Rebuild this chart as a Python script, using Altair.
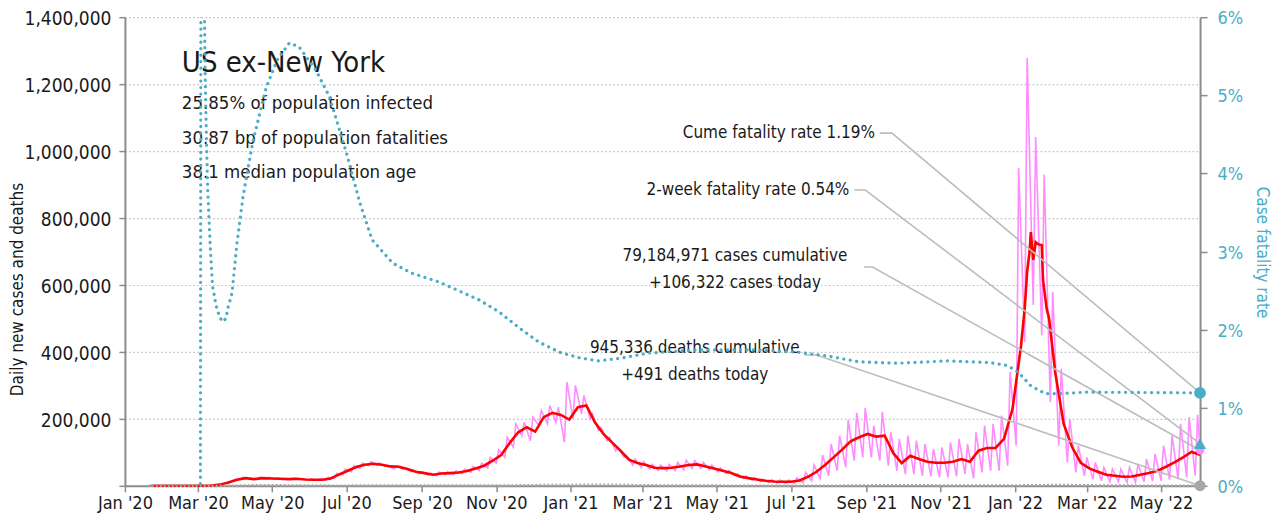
import altair as alt
import pandas as pd

# ---------------- data ----------------
# 7-day average of daily new cases, in thousands, weekly (Thursdays from 2020-01-23)
CASES_7DAY_START = "2020-01-23"
CASES_7DAY_K = [
    0, 0, 0, 0, 0, 0.1, 0.3, 1.2, 3.5, 10,
    18, 23, 20, 23, 22, 21, 20, 21, 19, 18,
    18, 22, 34, 45, 56, 63, 66, 63, 58, 57,
    50, 42, 38, 33, 37, 38, 40, 44, 52, 60,
    75, 92, 128, 160, 175, 162, 205, 218, 212, 198,
    235, 240, 190, 155, 130, 105, 78, 68, 62, 54,
    53, 54, 58, 62, 64, 58, 52, 45, 38, 28,
    23, 19, 15, 13, 12, 12, 16, 27, 42, 62,
    85, 108, 133, 145, 155, 147, 150, 98, 68, 90,
    80, 72, 69, 69, 72, 80, 72, 105, 113, 113,
    140, 230, 420, 700, 722, 530, 340, 185, 115, 69,
    52, 42, 33, 30, 27, 28, 33, 38, 45, 57,
    70, 85, 101, 93,
]
# extra readings of the 7-day average around the January 2022 peak
CASES_PEAK_DATES = ["2022-01-09", "2022-01-11", "2022-01-14", "2022-01-16",
                    "2022-01-18", "2022-01-23", "2022-01-24", "2022-01-29"]
CASES_PEAK_K = [530, 640, 758, 675, 728, 719, 615, 500]

# daily new cases, in thousands: weekly highs (Tuesdays from 2020-01-21)
DAILY_HI_START = "2020-01-21"
DAILY_HI_K = [
    0, 0, 0, 0, 0, 0.1, 0.3, 1, 3, 9,
    19, 25, 22, 26, 25, 24, 22, 23, 21, 20,
    20, 25, 37, 50, 60, 68, 72, 68, 62, 60,
    54, 46, 42, 38, 41, 43, 45, 50, 58, 68,
    85, 108, 145, 185, 190, 205, 225, 240, 235, 310,
    300, 270, 215, 175, 145, 115, 90, 80, 72, 64,
    62, 64, 70, 76, 75, 70, 62, 54, 46, 36,
    30, 25, 20, 18, 17, 17, 24, 40, 62, 92,
    125, 150, 197, 218, 233, 180, 221, 160, 140, 150,
    135, 125, 110, 115, 130, 140, 125, 160, 180, 185,
    210, 340, 950, 1278, 1042, 930, 580, 350, 200, 120,
    85, 70, 55, 50, 50, 55, 65, 80, 95, 120,
    150, 185, 205, 212,
]
# daily new cases, in thousands: weekly lows (Sundays from 2020-01-26)
DAILY_LO_START = "2020-01-26"
DAILY_LO_K = [
    0, 0, 0, 0, 0, 0, 0.3, 2, 6, 14,
    20, 22, 19, 21, 20, 19, 18, 19, 17, 17,
    17, 22, 33, 42, 52, 60, 62, 58, 50, 50,
    42, 36, 32, 30, 33, 34, 36, 40, 46, 54,
    68, 85, 115, 150, 135, 180, 185, 190, 130, 200,
    215, 200, 165, 135, 105, 85, 62, 55, 50, 46,
    45, 46, 48, 52, 52, 48, 42, 36, 30, 22,
    17, 13, 10, 8, 7, 7, 9, 15, 22, 30,
    45, 55, 75, 85, 85, 75, 60, 45, 35, 35,
    30, 28, 25, 25, 28, 35, 22, 40, 45, 45,
    60, 120, 430, 540, 450, 250, 120, 70, 40, 30,
    20, 15, 12, 12, 10, 10, 12, 14, 15, 18,
    20, 25, 30,
]

# 7-day average of daily deaths, in thousands (same Thursday grid as cases)
DEATHS_7DAY_K = [
    0, 0, 0, 0, 0, 0, 0, 0, 0.05, 0.2,
    0.6, 1.2, 1.5, 1.6, 1.6, 1.5, 1.3, 1.2, 1.0, 0.9,
    0.8, 0.6, 0.6, 0.6, 0.7, 0.8, 1.0, 1.1, 1.1, 1.1,
    1.0, 0.95, 0.85, 0.75, 0.75, 0.75, 0.7, 0.7, 0.7, 0.8,
    0.8, 0.95, 1.1, 1.4, 1.6, 2.0, 2.3, 2.5, 2.5, 2.4,
    2.7, 3.1, 3.0, 3.0, 2.9, 2.8, 2.3, 1.9, 1.8, 1.5,
    1.1, 0.9, 0.8, 0.8, 0.7, 0.7, 0.7, 0.6, 0.6, 0.5,
    0.5, 0.4, 0.35, 0.3, 0.25, 0.22, 0.2, 0.25, 0.3, 0.35,
    0.45, 0.6, 0.8, 1.0, 1.3, 1.5, 1.8, 1.9, 1.9, 1.7,
    1.6, 1.4, 1.3, 1.2, 1.1, 1.1, 1.0, 1.0, 1.2, 1.2,
    1.2, 1.1, 1.3, 1.6, 1.9, 2.1, 2.4, 2.4, 2.1, 1.8,
    1.5, 1.2, 1.0, 0.85, 0.7, 0.6, 0.5, 0.4, 0.35, 0.33,
    0.32, 0.3, 0.3, 0.3,
]

# cumulative case fatality rate (right axis)
CFR_DATES = [
    "2020-01-22", "2020-03-03", "2020-03-04", "2020-03-05", "2020-03-06", "2020-03-07",
    "2020-03-08", "2020-03-09", "2020-03-11", "2020-03-13", "2020-03-16", "2020-03-19",
    "2020-03-22", "2020-03-24", "2020-03-26", "2020-03-29", "2020-04-02", "2020-04-07",
    "2020-04-15", "2020-04-26", "2020-05-05", "2020-05-15", "2020-05-23", "2020-06-06",
    "2020-06-17", "2020-07-01", "2020-07-12", "2020-07-22", "2020-08-08", "2020-08-24",
    "2020-09-15", "2020-10-18", "2020-11-03", "2020-11-20", "2020-12-06", "2020-12-23",
    "2021-01-08", "2021-01-24", "2021-02-10", "2021-03-06", "2021-04-16", "2021-06-04",
    "2021-07-07", "2021-08-01", "2021-08-25", "2021-09-27", "2021-11-07", "2021-12-10",
    "2021-12-26", "2022-01-04", "2022-01-14", "2022-01-26", "2022-02-05", "2022-03-02",
    "2022-06-02",
]
CFR_VALUES = [
    0, 0, 0.15, 0.09, 0.065, 0.052,
    0.044, 0.038, 0.031, 0.0255, 0.023, 0.0215,
    0.021, 0.0215, 0.023, 0.0247, 0.031, 0.037,
    0.044, 0.051, 0.0545, 0.0567, 0.0562, 0.0532,
    0.0498, 0.0426, 0.0362, 0.0315, 0.0285, 0.0272,
    0.0261, 0.0238, 0.0223, 0.0202, 0.0184, 0.0171,
    0.0164, 0.0160, 0.0163, 0.0170, 0.0174, 0.0174,
    0.0171, 0.0166, 0.0159, 0.0157, 0.0160, 0.0158,
    0.0154, 0.0145, 0.0128, 0.0118, 0.0118, 0.0120,
    0.0119,
]

LAST_DATE = "2022-06-02"
CASES_TODAY = 106322
DEATHS_TODAY = 491
CASES_CUM = 79184971
DEATHS_CUM = 945336
CUME_CFR = 0.0119
TWO_WEEK_CFR = 0.0054

TITLE = "US ex-New York"
SUBTITLE = ["25.85% of population infected",
            "30.87 bp of population fatalities",
            "38.1 median population age"]

# annotation anchors (dates / left-axis values)
LABEL_RIGHT_DATES = ["2021-09-08", "2021-08-18"]
LABEL_RIGHT_V = [1053700, 883600]
LABEL_CENTER_DATES = ["2021-05-16", "2021-05-16", "2021-04-13", "2021-04-13"]
LABEL_CENTER_V = [686600, 606000, 412000, 331300]
LEADER_START = ["2021-09-12", "2021-08-22", "2021-08-30", "2021-07-12"]
LEADER_BEND = ["2021-09-22", "2021-08-31", "2021-09-06", "2021-07-22"]
LEADER_V = [1053700, 883600, 653700, 391000]

Y_MAX = 1400000
CFR_MAX = 0.06

# ---------------- styling ----------------
FONT = "Liberation Sans Narrow, DejaVu Sans Condensed, Roboto, sans-serif"
TEAL = "#4bacc6"
RED = "#ff0000"
PINK = "#ff8cff"
GREY = "#a6a6a6"
LEADER = "#bdbdbd"
AXIS = "#8c8c8c"
TXT = "#1a1a1a"

# ---------------- frames ----------------
thu = pd.date_range(CASES_7DAY_START, periods=len(CASES_7DAY_K), freq="7D")
red_df = pd.DataFrame({
    "date": list(thu) + list(pd.to_datetime(CASES_PEAK_DATES)),
    "v": [k * 1000 for k in CASES_7DAY_K] + [k * 1000 for k in CASES_PEAK_K],
}).sort_values("date")

hi_d = pd.date_range(DAILY_HI_START, periods=len(DAILY_HI_K), freq="7D")
lo_d = pd.date_range(DAILY_LO_START, periods=len(DAILY_LO_K), freq="7D")
pink_df = pd.DataFrame({
    "date": list(hi_d) + list(lo_d) + [pd.Timestamp(LAST_DATE)],
    "v": [k * 1000 for k in DAILY_HI_K] + [k * 1000 for k in DAILY_LO_K] + [CASES_TODAY],
}).sort_values("date")

deaths_df = pd.DataFrame({
    "date": list(thu),
    "v": [k * 1000 for k in DEATHS_7DAY_K],
})

cfr_df = pd.DataFrame({"date": pd.to_datetime(CFR_DATES), "cfr": CFR_VALUES})

conv = Y_MAX / CFR_MAX
end_vals = [CUME_CFR * conv, TWO_WEEK_CFR * conv, CASES_TODAY, DEATHS_TODAY]
rows = []
for i in range(4):
    rows.append({"id": i, "o": 0, "date": pd.Timestamp(LEADER_START[i]), "v": LEADER_V[i]})
    rows.append({"id": i, "o": 1, "date": pd.Timestamp(LEADER_BEND[i]), "v": LEADER_V[i]})
    rows.append({"id": i, "o": 2, "date": pd.Timestamp(LAST_DATE), "v": end_vals[i]})
leader_df = pd.DataFrame(rows)

right_lbl_df = pd.DataFrame({
    "date": pd.to_datetime(LABEL_RIGHT_DATES),
    "v": LABEL_RIGHT_V,
    "t": [f"Cume fatality rate {CUME_CFR:.2%}", f"2-week fatality rate {TWO_WEEK_CFR:.2%}"],
})
center_lbl_df = pd.DataFrame({
    "date": pd.to_datetime(LABEL_CENTER_DATES),
    "v": LABEL_CENTER_V,
    "t": [f"{CASES_CUM:,} cases cumulative", f"+{CASES_TODAY:,} cases today",
          f"{DEATHS_CUM:,} deaths cumulative", f"+{DEATHS_TODAY:,} deaths today"],
})
end_left_df = pd.DataFrame({
    "date": pd.to_datetime([LAST_DATE, LAST_DATE]),
    "v": [CASES_TODAY, DEATHS_TODAY],
    "kind": ["cases", "deaths"],
})
end_right_df = pd.DataFrame({
    "date": pd.to_datetime([LAST_DATE, LAST_DATE]),
    "cfr": [CUME_CFR, TWO_WEEK_CFR],
    "kind": ["cume", "twoweek"],
})
dummy = pd.DataFrame({"a": [0]})

# ---------------- encodings ----------------
tick_months = [(y, m) for y in (2020, 2021, 2022) for m in (1, 3, 5, 7, 9, 11)
               if not (y == 2022 and m > 5)]
x_axis = alt.Axis(
    values=[alt.DateTime(year=y, month=m, date=1) for y, m in tick_months],
    format="%b '%y", title=None, grid=False,
    labelFontSize=18, labelColor=TXT, labelPadding=3,
    labelOverlap=False, labelFlush=False, labelBound=False,
    domainColor=AXIS, domainWidth=2, tickColor=AXIS, tickWidth=1.5, tickSize=6,
)
X = alt.X("date:T",
          scale=alt.Scale(domain=[alt.DateTime(year=2020, month=1, date=1),
                                  alt.DateTime(year=2022, month=6, date=2)]),
          axis=x_axis)

y_axis = alt.Axis(
    orient="left", values=list(range(0, Y_MAX + 1, 200000)), format=",d",
    labelExpr="datum.value == 0 ? '' : datum.label",
    grid=True, gridDash=[1.5, 2.5], gridColor="#bdbdbd", gridWidth=1.2,
    domainColor=AXIS, domainWidth=2, tickColor=AXIS, tickWidth=1.5, tickSize=6,
    labelFontSize=19, labelColor=TXT, labelPadding=8, labelOffset=1.5,
    labelOverlap=False, labelFlush=False, labelBound=False,
    title="Daily new cases and deaths", titleFontSize=17, titleFontWeight="normal",
    titleColor=TXT, titleX=-107, titleY=272, titleAngle=270, titleAlign="center",
    titleBaseline="middle",
)
Y = alt.Y("v:Q", scale=alt.Scale(domain=[0, Y_MAX]), axis=y_axis)

yr_axis = alt.Axis(
    orient="right", values=[0, 0.01, 0.02, 0.03, 0.04, 0.05, 0.06], format=".0%",
    grid=False, domainColor=AXIS, domainWidth=2, tickColor=AXIS, tickWidth=1.5,
    tickSize=7, labelFontSize=18, labelColor=TEAL, labelPadding=10, labelOffset=1.5,
    labelOverlap=False, labelFlush=False, labelBound=False,
    title="Case fatality rate", titleFontSize=17, titleFontWeight="normal",
    titleColor=TEAL, titleX=61, titleY=235, titleAngle=90, titleAlign="center",
    titleBaseline="middle",
)
YR = alt.Y("cfr:Q", scale=alt.Scale(domain=[0, CFR_MAX]), axis=yr_axis)

# ---------------- layers ----------------
pink = alt.Chart(pink_df).mark_line(color=PINK, strokeWidth=1.6).encode(x=X, y=Y)
red = alt.Chart(red_df).mark_line(color=RED, strokeWidth=2.6).encode(x=X, y=Y)
deaths = alt.Chart(deaths_df).mark_line(color=GREY, strokeWidth=2.5, strokeDash=[2, 2]).encode(x=X, y=Y)
leaders = alt.Chart(leader_df).mark_line(color=LEADER, strokeWidth=1.6).encode(
    x=X, y=Y, detail="id:N", order="o:Q")
right_lbl = alt.Chart(right_lbl_df).mark_text(
    align="right", baseline="middle", fontSize=17, color=TXT, font=FONT
).encode(x=X, y=Y, text="t:N")
center_lbl = alt.Chart(center_lbl_df).mark_text(
    align="center", baseline="middle", fontSize=17, color=TXT, font=FONT
).encode(x=X, y=Y, text="t:N")
end_left = alt.Chart(end_left_df).mark_point(filled=True, opacity=1, shape="circle").encode(
    x=X, y=Y,
    color=alt.Color("kind:N", scale=alt.Scale(domain=["cases", "deaths"], range=[PINK, GREY]),
                    legend=None),
    size=alt.Size("kind:N", scale=alt.Scale(domain=["cases", "deaths"], range=[70, 120]),
                  legend=None),
)
title_txt = alt.Chart(dummy).mark_text(
    text=TITLE, align="left", baseline="middle", fontSize=29, color=TXT, font=FONT
).encode(x=alt.value(57), y=alt.value(46))
sub_txt = alt.Chart(dummy).mark_text(
    text=SUBTITLE, align="left", baseline="middle", fontSize=18.5, color=TXT, font=FONT,
    lineHeight=34.5
).encode(x=alt.value(57), y=alt.value(86))

left = alt.layer(pink, red, deaths, leaders, right_lbl, center_lbl, end_left,
                 title_txt, sub_txt)

teal = alt.Chart(cfr_df).mark_line(
    color=TEAL, strokeWidth=3.2, strokeDash=[0.1, 6.4], strokeCap="round", clip=True
).encode(x=X, y=YR)
end_right = alt.Chart(end_right_df).mark_point(filled=True, opacity=1, color=TEAL).encode(
    x=X, y=YR,
    shape=alt.Shape("kind:N", scale=alt.Scale(domain=["cume", "twoweek"],
                                              range=["circle", "triangle-up"]), legend=None),
    size=alt.Size("kind:N", scale=alt.Scale(domain=["cume", "twoweek"], range=[140, 150]),
                  legend=None),
)
right = alt.layer(teal, end_right)

chart = alt.layer(left, right).resolve_scale(
    y="independent", color="independent", size="independent", shape="independent"
).properties(
    width=1076, height=469,
    autosize=alt.AutoSizeParams(type="none"),
    padding={"left": 117, "top": 9, "right": 74, "bottom": 35},
    background="white",
).configure_view(stroke=None).configure_axis(
    labelFont=FONT, titleFont=FONT
).configure_text(font=FONT)

chart.save("out.html", embed_options={"renderer": "svg", "actions": False})
